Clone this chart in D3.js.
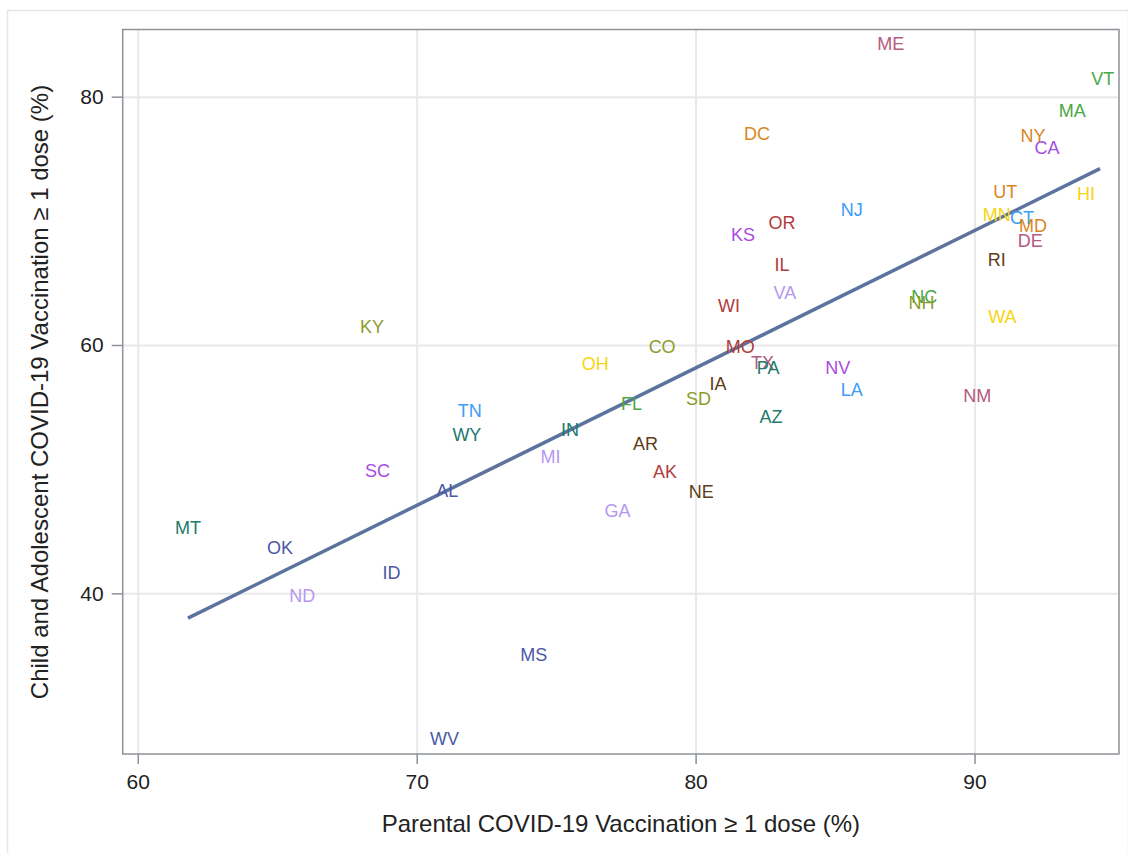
<!DOCTYPE html>
<html lang="en">
<head>
    <meta charset="UTF-8">
    <title>Parental vs Child COVID-19 Vaccination by State</title>
    <script src="https://d3js.org/d3.v7.min.js"></script>
    <style>
        body {
            margin: 0;
            background-color: #fff;
            font-family: "Liberation Sans", Arial, sans-serif;
        }
        .grid line {
            stroke: #e8e8e8;
            stroke-width: 2px;
        }
        .grid .domain {
            display: none;
        }
        .axis text {
            font-size: 21px;
            fill: #222;
        }
        .axis line {
            stroke: #8c9298;
            stroke-width: 1.5px;
        }
        .axis .domain {
            display: none;
        }
        .axis-title {
            font-size: 24px;
            fill: #222;
            text-anchor: middle;
        }
        .state {
            font-size: 18px;
            text-anchor: middle;
        }
        .fit {
            fill: none;
            stroke: #5b739d;
            stroke-width: 3.5px;
        }
    </style>
</head>
<body>
<div id="chart"></div>
<script>
    // state abbreviations with parental (x) and child/adolescent (y) coverage, %
    const states = ["ME", "VT", "MA", "DC", "NY", "CA", "UT", "HI", "NJ", "MN",
        "CT", "OR", "MD", "KS", "DE", "IL", "RI", "VA", "NC", "NH",
        "WI", "WA", "KY", "CO", "MO", "OH", "TX", "PA", "NV", "IA",
        "LA", "SD", "NM", "FL", "TN", "AZ", "IN", "WY", "AR", "MI",
        "SC", "AK", "AL", "NE", "GA", "MT", "OK", "ID", "ND", "MS", "WV"];
    const parental = [87.0, 94.6, 93.5, 82.2, 92.1, 92.6, 91.1, 94.0, 85.6, 90.8,
        91.7, 83.1, 92.1, 81.7, 92.0, 83.1, 90.8, 83.2, 88.2, 88.1,
        81.2, 91.0, 68.4, 78.8, 81.6, 76.4, 82.4, 82.6, 85.1, 80.8,
        85.6, 80.1, 90.1, 77.7, 71.9, 82.7, 75.5, 71.8, 78.2, 74.8,
        68.6, 78.9, 71.1, 80.2, 77.2, 61.8, 65.1, 69.1, 65.9, 74.2, 71.0];
    const child = [84.3, 81.5, 78.9, 77.0, 76.9, 75.9, 72.4, 72.2, 70.9, 70.5,
        70.3, 69.9, 69.6, 68.9, 68.4, 66.5, 66.9, 64.2, 63.9, 63.4,
        63.2, 62.3, 61.5, 59.9, 59.9, 58.5, 58.6, 58.2, 58.2, 56.9,
        56.4, 55.7, 55.9, 55.3, 54.7, 54.2, 53.2, 52.8, 52.1, 51.0,
        49.9, 49.8, 48.3, 48.2, 46.7, 45.3, 43.7, 41.7, 39.8, 35.1, 28.3];

    // regression line end points as drawn
    const fitX = [61.8, 94.5];
    const fitY = [38.0, 74.2];

    const xTicks = [60, 70, 80, 90];
    const yTicks = [40, 60, 80];

    // label colours, same order as states
    const labelColors = ["#b55a80", "#4aa844", "#4aa844", "#d9861c", "#d9861c", "#a84de0", "#d9861c", "#f7d40f", "#3d9cf5", "#f7d40f",
        "#3d9cf5", "#b23b3b", "#d9861c", "#a84de0", "#b55a80", "#b23b3b", "#5c3d18", "#b796f2", "#4aa844", "#8c9c2e",
        "#b23b3b", "#f7d40f", "#8c9c2e", "#8c9c2e", "#b23b3b", "#f7d40f", "#b55a80", "#217a6b", "#a84de0", "#5c3d18",
        "#3d9cf5", "#8c9c2e", "#b55a80", "#4aa844", "#3d9cf5", "#217a6b", "#217a6b", "#217a6b", "#5c3d18", "#b796f2",
        "#a84de0", "#b23b3b", "#4b58a6", "#5c3d18", "#b796f2", "#217a6b", "#4b58a6", "#4b58a6", "#b796f2", "#4b58a6", "#4b58a6"];

    const W = 1128, H = 853;
    const plot = { left: 122.7, right: 1119, top: 29.5, bottom: 754 };

    const svg = d3.select("#chart").append("svg")
        .attr("width", W)
        .attr("height", H);

    // outer light frame
    svg.append("rect")
        .attr("x", 7.5).attr("y", 10.5)
        .attr("width", W - 7).attr("height", H)
        .attr("fill", "none")
        .attr("stroke", "#e6e6e6")
        .attr("stroke-width", 1.5);

    const x = d3.scaleLinear().domain([59.46, 95.18]).range([plot.left, plot.right]);
    const y = d3.scaleLinear().domain([27.06, 85.41]).range([plot.bottom, plot.top]);
    const color = d3.scaleOrdinal().domain(states).range(labelColors);

    // grid lines
    svg.append("g")
        .attr("class", "grid")
        .attr("transform", `translate(0, ${plot.top})`)
        .call(d3.axisBottom(x).tickValues(xTicks).tickSize(plot.bottom - plot.top).tickFormat(""));
    svg.append("g")
        .attr("class", "grid")
        .attr("transform", `translate(${plot.left}, 0)`)
        .call(d3.axisRight(y).tickValues(yTicks).tickSize(plot.right - plot.left).tickFormat(""));

    // axes
    svg.append("g")
        .attr("class", "axis")
        .attr("transform", `translate(0, ${plot.bottom})`)
        .call(d3.axisBottom(x).tickValues(xTicks).tickSize(10).tickPadding(10));
    svg.append("g")
        .attr("class", "axis")
        .attr("transform", `translate(${plot.left}, 0)`)
        .call(d3.axisLeft(y).tickValues(yTicks).tickSize(11).tickPadding(8));

    // plot frame
    svg.append("rect")
        .attr("x", plot.left).attr("y", plot.top)
        .attr("width", plot.right - plot.left)
        .attr("height", plot.bottom - plot.top)
        .attr("fill", "none")
        .attr("stroke", "#8c9298")
        .attr("stroke-width", 1.5);

    // fit line
    svg.append("path")
        .attr("class", "fit")
        .attr("d", d3.line()(fitX.map((v, i) => [x(v), y(fitY[i])])));

    // state labels as markers
    svg.selectAll(".state")
        .data(states)
        .enter().append("text")
        .attr("class", "state")
        .attr("x", (d, i) => x(parental[i]))
        .attr("y", (d, i) => y(child[i]))
        .attr("dy", "0.36em")
        .attr("fill", d => color(d))
        .text(d => d);

    // axis titles
    svg.append("text")
        .attr("class", "axis-title")
        .attr("x", (plot.left + plot.right) / 2)
        .attr("y", 832)
        .text("Parental COVID-19 Vaccination \u2265 1 dose (%)");
    svg.append("text")
        .attr("class", "axis-title")
        .attr("transform", "rotate(-90)")
        .attr("x", -392)
        .attr("y", 48)
        .text("Child and Adolescent COVID-19 Vaccination \u2265 1 dose (%)");
</script>
</body>
</html>
